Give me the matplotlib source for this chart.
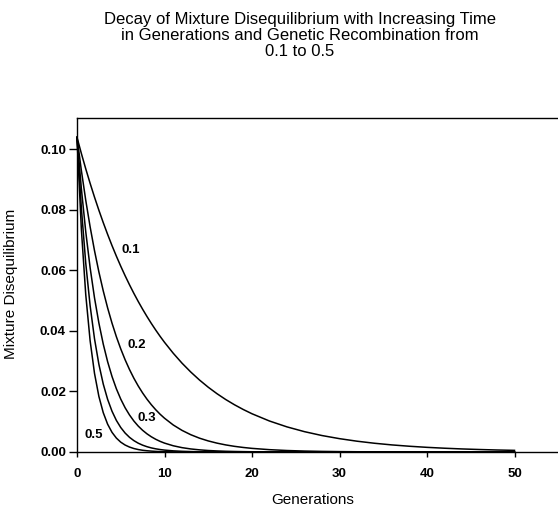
import matplotlib
matplotlib.use("Agg")
import matplotlib.pyplot as plt

plt.rcParams['font.family'] = ['Liberation Sans', 'DejaVu Sans']

generations = [0, 0.5, 1, 1.5, 2, 2.5, 3, 3.5, 4, 4.5, 5, 5.5, 6, 6.5, 7, 7.5, 8, 8.5, 9, 9.5, 10,
               11, 12, 13, 14, 15, 16, 17, 18, 19, 20,
               22, 24, 26, 28, 30, 32, 34, 36, 38, 40, 42, 44, 46, 48, 50]

d_r01 = [0.1040, 0.09866, 0.09360, 0.08880, 0.08424, 0.07992, 0.07582, 0.07193, 0.06823, 0.06473,
         0.06141, 0.05826, 0.05527, 0.05243, 0.04974, 0.04719, 0.04477, 0.04247, 0.04029, 0.03822,
         0.03626, 0.03264, 0.02937, 0.02644, 0.02379, 0.02141, 0.01927, 0.01734, 0.01561, 0.01405,
         0.01264, 0.01024, 0.00830, 0.00672, 0.00544, 0.00441, 0.00357, 0.00289, 0.00234, 0.00190,
         0.00154, 0.00125, 0.00101, 0.00082, 0.00066, 0.00054]
d_r02 = [0.1040, 0.09302, 0.08320, 0.07442, 0.06656, 0.05953, 0.05325, 0.04763, 0.04260, 0.03810,
         0.03408, 0.03048, 0.02726, 0.02438, 0.02181, 0.01951, 0.01745, 0.01561, 0.01396, 0.01248,
         0.01117, 0.00893, 0.00715, 0.00572, 0.00457, 0.00366, 0.00293, 0.00234, 0.00187, 0.00150,
         0.00120, 0.00077, 0.00049, 0.00031, 0.00020, 0.00013, 0.00008, 0.00005, 0.00003, 0.00002,
         0.00001, 0.00001, 0.00001, 0.0, 0.0, 0.0]
d_r03 = [0.1040, 0.08701, 0.07280, 0.06091, 0.05096, 0.04264, 0.03567, 0.02985, 0.02497, 0.02089,
         0.01748, 0.01462, 0.01224, 0.01024, 0.00856, 0.00717, 0.00600, 0.00502, 0.00420, 0.00351,
         0.00294, 0.00206, 0.00144, 0.00101, 0.00071, 0.00049, 0.00035, 0.00024, 0.00017, 0.00012,
         0.00008, 0.00004, 0.00002, 0.00001, 0.0, 0.0, 0.0, 0.0, 0.0, 0.0,
         0.0, 0.0, 0.0, 0.0, 0.0, 0.0]
d_r04 = [0.1040, 0.08056, 0.06240, 0.04834, 0.03744, 0.02900, 0.02246, 0.01740, 0.01348, 0.01044,
         0.00809, 0.00626, 0.00485, 0.00376, 0.00291, 0.00226, 0.00175, 0.00135, 0.00105, 0.00081,
         0.00063, 0.00038, 0.00023, 0.00014, 0.00008, 0.00005, 0.00003, 0.00002, 0.00001, 0.00001,
         0.0, 0.0, 0.0, 0.0, 0.0, 0.0, 0.0, 0.0, 0.0, 0.0,
         0.0, 0.0, 0.0, 0.0, 0.0, 0.0]
d_r05 = [0.1040, 0.07354, 0.05200, 0.03677, 0.02600, 0.01838, 0.01300, 0.00919, 0.00650, 0.00460,
         0.00325, 0.00230, 0.00163, 0.00115, 0.00081, 0.00057, 0.00041, 0.00029, 0.00020, 0.00014,
         0.00010, 0.00005, 0.00003, 0.00001, 0.00001, 0.0, 0.0, 0.0, 0.0, 0.0,
         0.0, 0.0, 0.0, 0.0, 0.0, 0.0, 0.0, 0.0, 0.0, 0.0,
         0.0, 0.0, 0.0, 0.0, 0.0, 0.0]

series = [d_r01, d_r02, d_r03, d_r04, d_r05]

curve_labels = ["0.1", "0.2", "0.3", "0.5"]
label_x = [6.11, 6.8, 7.94, 1.94]
label_y = [0.0668, 0.0354, 0.0114, 0.0055]

x_ticks = [0, 10, 20, 30, 40, 50]
y_ticks = [0.00, 0.02, 0.04, 0.06, 0.08, 0.10]

title = "Decay of Mixture Disequilibrium with Increasing Time\nin Generations and Genetic Recombination from\n0.1 to 0.5"

fig = plt.figure(figsize=(5.58, 5.08), dpi=100)
ax = fig.add_axes([77 / 558, 56 / 508, 525 / 558, 333.7 / 508])

for s in series:
    ax.plot(generations, s, color="black", linewidth=1.1, clip_on=False)

for t, lx, ly in zip(curve_labels, label_x, label_y):
    ax.text(lx, ly, t, ha="center", va="center", fontsize=9.5, fontweight="bold")

ax.set_xlim(0, 60)
ax.set_ylim(0, 0.1103)
ax.set_xticks(x_ticks)
ax.set_yticks(y_ticks)
ax.set_yticklabels([f"{v:.2f}" for v in y_ticks])
ax.tick_params(direction="out", width=1, labelsize=9.5, colors="black")
ax.tick_params(axis="x", length=3.6, pad=8)
ax.tick_params(axis="y", length=5.5, pad=2.5)
for lab in ax.get_xticklabels() + ax.get_yticklabels():
    lab.set_fontweight("bold")

for sp in ax.spines.values():
    sp.set_linewidth(1.0)
    sp.set_color("black")

ax.set_xlabel("Generations", fontsize=11)
ax.xaxis.set_label_coords((313 - 77) / 525, -0.122)
ax.set_ylabel("Mixture Disequilibrium", fontsize=11)
ax.yaxis.set_label_coords(-0.112, (452 - 283.5) / 333.7)

fig.text(300 / 558, 1 - 12 / 508, title, ha="center", va="top", fontsize=12, linespacing=1.1)

fig.savefig("out.png", dpi=100)
